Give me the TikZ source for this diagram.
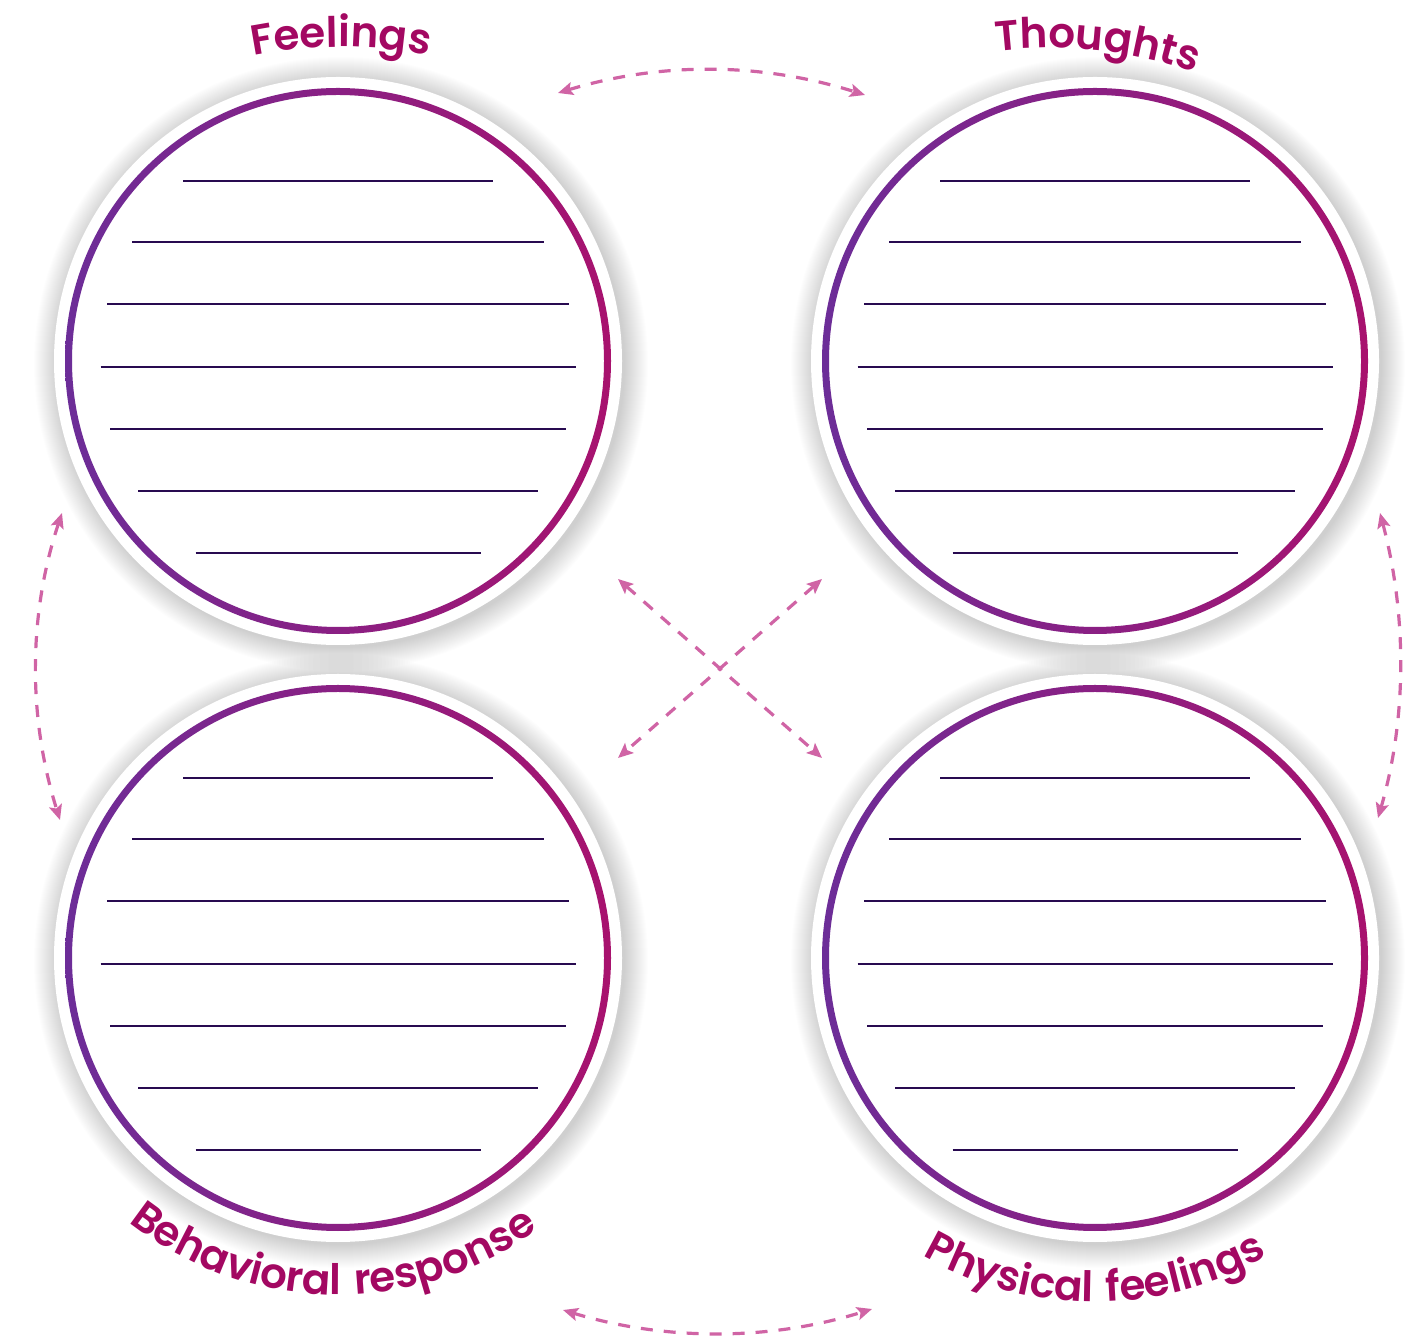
\documentclass[tikz,border=0pt]{standalone}
\usepackage{fontspec}
\usetikzlibrary{decorations.text,arrows.meta}
\IfFontExistsTF{Poppins SemiBold}{\newfontfamily\labfont{Poppins SemiBold}[LetterSpace=8]}{\newfontfamily\labfont{Poppins}[LetterSpace=8]}
\definecolor{ringL}{RGB}{108,45,152}
\definecolor{ringR}{RGB}{168,18,110}
\definecolor{lineC}{RGB}{40,10,80}
\definecolor{arrC}{RGB}{208,100,165}
\definecolor{labC}{RGB}{163,8,98}
\tikzset{
  writeline/.style={draw=lineC, line width=2.8pt},
  dasharrow/.style={draw=arrC, line width=3.2pt, dash pattern=on 12pt off 11pt,
    {Stealth[length=15pt,width=13pt,inset=3pt]}-{Stealth[length=15pt,width=13pt,inset=3pt]}},
  lab/.style={decorate, decoration={text along path, text align=center, text color=labC,
    text={|\labfont\fontsize{42}{48}\selectfont|#1}}}
}
\begin{document}
\begin{tikzpicture}[x=1pt,y=1pt]
\useasboundingbox (0,0) rectangle (1411,1342);
\coordinate (TL) at (338,981);
\coordinate (TR) at (1095,981);
\coordinate (BL) at (338,384);
\coordinate (BR) at (1095,384);
% shadows
\foreach \c in {TL,TR,BL,BR}{
  \foreach \i in {0,...,23}
    \fill[black, opacity=0.007] ([shift={(3,-3)}]\c) circle[radius=284+\i];
}
% discs, rings, lines
\foreach \c in {TL,TR,BL,BR}{
  \fill[white] (\c) circle[radius=284];
  \shade[left color=ringL, right color=ringR, even odd rule] (\c) circle[radius=273] (\c) circle[radius=266];
  \foreach \dy/\hw in {180/155, 119/206, 57/231, -6/237.5, -68/228, -130/200, -192/142.5}
    \draw[writeline] ([shift={(-\hw,\dy)}]\c) -- ([shift={(\hw,\dy)}]\c);
}
% labels
\path[lab=Feelings] (341,845) ++(115:450) arc[start angle=115, end angle=65, radius=450];
\path[lab=Thoughts] (1050,844) ++(109:450) arc[start angle=109, end angle=59, radius=450];
\path[lab={Behavioral response}] (BL) ++(185:337) arc[start angle=185, end angle=353, radius=337];
\path[lab={Physical feelings}] (BR) ++(187:344) arc[start angle=187, end angle=353, radius=344];
% arrows
\coordinate (a1) at (558,1249); \coordinate (a2) at (865,1247);
\coordinate (b1) at (563,32);   \coordinate (b2) at (872,33);
\coordinate (l1) at (62,829);   \coordinate (l2) at (60,522);
\coordinate (r1) at (1380,829); \coordinate (r2) at (1378,524);
\coordinate (x1) at (618,763);  \coordinate (x2) at (822,584);
\coordinate (x3) at (822,763);  \coordinate (x4) at (618,584);
\draw[dasharrow] (a1) .. controls (660,1280) and (760,1280) .. (a2);
\draw[dasharrow] (b1) .. controls (665,1) and (770,1) .. (b2);
\draw[dasharrow] (l1) .. controls (28,727) and (28,624) .. (l2);
\draw[dasharrow] (r1) .. controls (1407,727) and (1407,624) .. (r2);
\draw[dasharrow] (x1) -- (x2);
\draw[dasharrow] (x3) -- (x4);
\end{tikzpicture}
\end{document}
